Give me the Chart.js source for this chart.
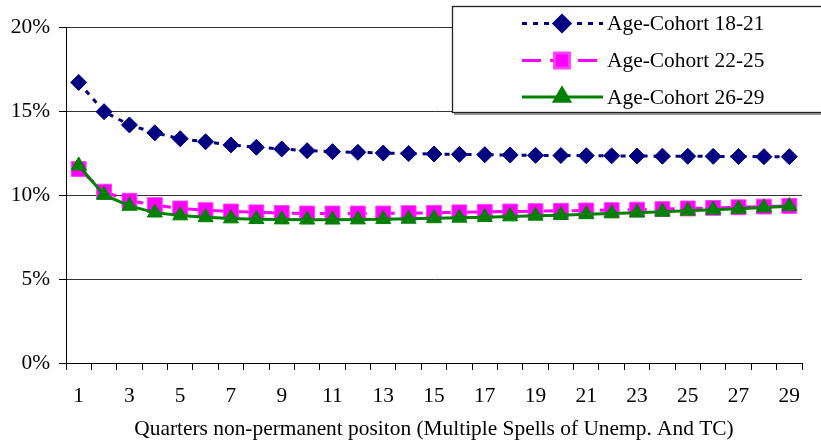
<!DOCTYPE html>
<html>
<head>
<meta charset="utf-8">
<script src="https://cdn.jsdelivr.net/npm/chart.js@4/dist/chart.umd.min.js"></script>
<style>
  html, body { margin: 0; padding: 0; background: #fff; }
  #wrap { width: 821px; height: 443px; position: relative; }
</style>
</head>
<body>
<div id="wrap"><canvas id="rateChart"></canvas></div>
<script>
// quarters in a non-permanent position
const quarters = ['1', '2', '3', '4', '5', '6', '7', '8', '9', '10',
    '11', '12', '13', '14', '15', '16', '17', '18', '19', '20',
    '21', '22', '23', '24', '25', '26', '27', '28', '29'];

// rates in percent
const cohort1821 = [16.7, 14.96, 14.17, 13.7, 13.35, 13.17, 12.98, 12.84, 12.74, 12.64,
    12.58, 12.54, 12.5, 12.47, 12.44, 12.42, 12.4, 12.38, 12.36, 12.35,
    12.34, 12.33, 12.32, 12.31, 12.3, 12.3, 12.29, 12.28, 12.28];
const cohort2225 = [11.55, 10.2, 9.66, 9.4, 9.2, 9.1, 9.02, 8.97, 8.93, 8.9,
    8.9, 8.9, 8.9, 8.92, 8.94, 8.97, 9.0, 9.02, 9.04, 9.06,
    9.08, 9.1, 9.13, 9.16, 9.2, 9.23, 9.27, 9.31, 9.35];
const cohort2629 = [11.75, 10.0, 9.35, 8.95, 8.78, 8.67, 8.6, 8.56, 8.54, 8.53,
    8.53, 8.54, 8.56, 8.58, 8.61, 8.64, 8.68, 8.72, 8.76, 8.8,
    8.85, 8.9, 8.95, 9.0, 9.06, 9.12, 9.18, 9.25, 9.33];

const seriesLabels = ['Age-Cohort 18-21', 'Age-Cohort 22-25', 'Age-Cohort 26-29'];
const yTicks = [0, 5, 10, 15, 20];

const serif = '"Liberation Serif", "Times New Roman", serif';
const fontSize = 21.4;

// boxed legend in the top right corner, drawn from the datasets
const boxLegend = {
    id: 'boxLegend',
    afterDraw(chart) {
        const ctx = chart.ctx;
        const rows = [23.5, 60.5, 97];
        ctx.save();
        ctx.fillStyle = '#9a9a9a';
        ctx.fillRect(454, 8, 370, 107);
        ctx.fillStyle = '#fff';
        ctx.fillRect(452, 6, 370, 107);
        ctx.strokeStyle = '#222';
        ctx.lineWidth = 1.3;
        ctx.strokeRect(452.5, 6.5, 370, 106);

        chart.data.datasets.forEach((ds, i) => {
            const y = rows[i];
            ctx.strokeStyle = ds.borderColor;
            ctx.lineWidth = ds.borderWidth;
            ctx.setLineDash(ds.borderDash || []);
            ctx.beginPath();
            ctx.moveTo(522, y);
            ctx.lineTo(603, y);
            ctx.stroke();
            ctx.setLineDash([]);
            ctx.fillStyle = ds.pointBackgroundColor;
            ctx.strokeStyle = ds.pointBorderColor;
            Chart.helpers.drawPoint(ctx, {
                pointStyle: ds.pointStyle,
                radius: ds.pointRadius,
                rotation: 0,
                borderWidth: ds.pointBorderWidth
            }, 562, y);
            ctx.fillStyle = '#000';
            ctx.font = fontSize + 'px ' + serif;
            ctx.textBaseline = 'middle';
            ctx.textAlign = 'left';
            ctx.fillText(ds.label, 607, y + 1);
        });
        ctx.restore();
    }
};

const whiteBg = {
    id: 'whiteBg',
    beforeDraw(chart) {
        const ctx = chart.ctx;
        ctx.save();
        ctx.fillStyle = '#fff';
        ctx.fillRect(0, 0, chart.width, chart.height);
        ctx.restore();
    }
};

var ctx = document.getElementById('rateChart').getContext('2d');
var chart = new Chart(ctx, {
    type: 'line',
    data: {
        labels: quarters,
        datasets: [{
            label: seriesLabels[0],
            data: cohort1821,
            borderColor: '#000080',
            borderWidth: 3,
            borderDash: [5, 6],
            pointStyle: 'rectRot',
            pointRadius: 8,
            pointBackgroundColor: '#000080',
            pointBorderColor: '#000080',
            pointBorderWidth: 1,
            fill: false,
            order: 2
        }, {
            label: seriesLabels[1],
            data: cohort2225,
            borderColor: '#ff00ff',
            borderWidth: 3,
            borderDash: [19, 9],
            pointStyle: 'rect',
            pointRadius: 10.5,
            pointBackgroundColor: '#ff00ff',
            pointBorderColor: '#ff40ff',
            pointBorderWidth: 1,
            fill: false,
            order: 1
        }, {
            label: seriesLabels[2],
            data: cohort2629,
            borderColor: '#008000',
            borderWidth: 3,
            pointStyle: 'triangle',
            pointRadius: 8.7,
            pointBackgroundColor: '#008000',
            pointBorderColor: '#008000',
            pointBorderWidth: 1,
            fill: false,
            order: 0
        }]
    },
    options: {
        responsive: true,
        maintainAspectRatio: false,
        animation: false,
        devicePixelRatio: 1,
        layout: { padding: { top: 27, right: 19, left: 0, bottom: 0 } },
        plugins: {
            legend: { display: false },
            tooltip: { enabled: false }
        },
        scales: {
            x: {
                offset: true,
                afterFit: (scale) => { scale.height = 80; },
                grid: {
                    offset: true,
                    drawOnChartArea: false,
                    drawTicks: true,
                    tickLength: 7,
                    tickColor: '#000'
                },
                border: { display: true, color: '#000', width: 1 },
                ticks: {
                    autoSkip: false,
                    maxRotation: 0,
                    padding: 14,
                    color: '#000',
                    font: { family: serif, size: fontSize },
                    callback: (val, idx) => idx % 2 === 0 ? quarters[idx] : ''
                },
                title: {
                    display: true,
                    text: 'Quarters non-permanent positon (Multiple Spells of Unemp. And TC)',
                    color: '#000',
                    font: { family: serif, size: fontSize },
                    padding: { top: 0, bottom: 1 }
                }
            },
            y: {
                min: yTicks[0],
                max: yTicks[yTicks.length - 1],
                afterFit: (scale) => { scale.width = 66; },
                grid: {
                    color: '#333',
                    tickColor: '#000',
                    tickLength: 7
                },
                border: { display: true, color: '#000', width: 1 },
                ticks: {
                    stepSize: 5,
                    padding: 9,
                    color: '#000',
                    font: { family: serif, size: fontSize },
                    callback: (v) => v + '%'
                }
            }
        }
    },
    plugins: [whiteBg, boxLegend]
});
</script>
</body>
</html>
